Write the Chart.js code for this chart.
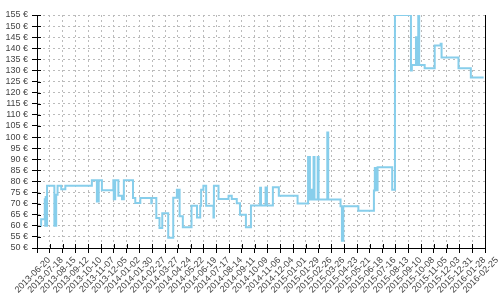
<!DOCTYPE html>
<html>
<head>
<meta charset="utf-8">
<script src="https://cdn.jsdelivr.net/npm/chart.js@4.4.0/dist/chart.umd.min.js"></script>
<style>
  html,body{margin:0;padding:0;background:#fff;}
  #wrap{width:500px;height:300px;}
</style>
</head>
<body>
<div id="wrap"><canvas id="c"></canvas></div>
<script>
// Price history (step changes)
const dates = [
  '2013-06-28','2013-06-29','2013-07-07','2013-07-08','2013-07-09','2013-07-11','2013-07-12','2013-07-28',
  '2013-08-01','2013-08-04','2013-08-12','2013-08-21','2013-10-18','2013-10-29','2013-11-02','2013-11-09',
  '2013-12-04','2013-12-05','2013-12-08','2013-12-15','2013-12-23','2013-12-27','2014-01-16','2014-01-21',
  '2014-02-01','2014-02-25','2014-02-26','2014-03-08','2014-03-15','2014-03-21','2014-04-03','2014-04-14',
  '2014-04-22','2014-04-24','2014-04-25','2014-04-28','2014-05-05','2014-05-24','2014-06-05','2014-06-12',
  '2014-06-14','2014-06-19','2014-06-25','2014-07-11','2014-07-12','2014-07-22','2014-08-13','2014-08-20',
  '2014-08-31','2014-09-07','2014-09-20','2014-10-01','2014-10-21','2014-10-23','2014-11-02','2014-11-05',
  '2014-11-18','2014-12-01','2015-01-11','2015-02-03','2015-02-07','2015-02-09','2015-02-11','2015-02-15',
  '2015-02-17','2015-02-24','2015-02-26','2015-03-17','2015-03-19','2015-04-15','2015-04-18','2015-04-21',
  '2015-05-24','2015-06-27','2015-06-29','2015-07-01','2015-07-05','2015-08-06','2015-08-12','2015-09-16',
  '2015-09-18','2015-09-27','2015-09-28','2015-09-29','2015-09-30','2015-10-01','2015-10-02','2015-10-04',
  '2015-10-16','2015-11-07','2015-11-20','2015-11-22','2015-12-29','2016-01-25','2016-02-22'
];
const prices = [
  60, 63, 72, 60, 73, 60, 78, 60,
  74, 78, 76.5, 78, 80.5, 71, 80.5, 76,
  80.5, 72, 80.5, 73.5, 72, 80.5, 72.5, 70.3,
  72.5, 70.2, 72.5, 63.5, 59, 65.7, 54.6, 72.6,
  76.3, 72.6, 76.3, 64.3, 59.4, 69, 63.8, 69,
  76.2, 78, 69, 63.8, 78, 72.1, 73.6, 72.1,
  70.2, 65, 59.3, 69.1, 77.1, 69.1, 77.3, 69.1,
  77.4, 73.6, 70.1, 91, 71.8, 76.3, 71.8, 91,
  71.8, 91, 71.8, 102, 71.8, 68.8, 53.3, 68.8,
  66.8, 75.9, 86, 76, 86.4, 76.2, 155, 130,
  132.5, 145, 132.5, 145, 132.5, 145, 155, 132.5,
  131, 141.3, 142, 135.8, 131, 126.8, 126.8
];
const tickLabels = [
  '2013-06-20','2013-07-18','2013-08-15','2013-09-12','2013-10-10','2013-11-07','2013-12-05',
  '2014-01-02','2014-01-30','2014-02-27','2014-03-27','2014-04-24','2014-05-22','2014-06-19',
  '2014-07-17','2014-08-14','2014-09-11','2014-10-09','2014-11-06','2014-12-04','2015-01-01',
  '2015-01-29','2015-02-26','2015-03-26','2015-04-23','2015-05-21','2015-06-18','2015-07-16',
  '2015-08-13','2015-09-10','2015-10-08','2015-11-05','2015-12-03','2015-12-31','2016-01-28','2016-02-25'
];
const yTicks = [50,55,60,65,70,75,80,85,90,95,100,105,110,115,120,125,130,135,140,145,150,155];

const t0 = Date.parse(tickLabels[0]);
const day = s => (Date.parse(s) - t0) / 864e5;
const points = dates.map((d, i) => ({ x: day(d), y: prices[i] }));
const tickDays = tickLabels.map(day);

const FONT = { family: "'Liberation Sans', Arial, sans-serif", size: 9 };
const GRID = { color: '#bbb', tickColor: '#000', tickLength: 5 };
const BORDER = { color: '#000', width: 1, dash: [2, 3] };

// short ticks inside the plot + right frame line
const innerTicks = {
  id: 'innerTicks',
  afterDraw(chart) {
    const { ctx, chartArea: a, scales: { x, y } } = chart;
    ctx.save();
    ctx.strokeStyle = '#000'; ctx.lineWidth = 1;
    ctx.beginPath();
    y.ticks.forEach(t => { const p = Math.round(y.getPixelForValue(t.value)) + 0.5; ctx.moveTo(a.left, p); ctx.lineTo(a.left + 4, p); });
    x.ticks.forEach(t => { const p = Math.round(x.getPixelForValue(t.value)) + 0.5; ctx.moveTo(p, a.bottom); ctx.lineTo(p, a.bottom - 4); });
    const r = Math.round(a.right) + 0.5;
    ctx.moveTo(r, a.top); ctx.lineTo(r, a.bottom);
    ctx.stroke();
    ctx.restore();
  }
};

new Chart(document.getElementById('c'), {
  type: 'line',
  data: { datasets: [{ data: points, stepped: true, borderColor: '#87ceeb', borderWidth: 2, pointRadius: 0, fill: false }] },
  options: {
    responsive: true, maintainAspectRatio: false, animation: false,
    layout: { padding: { top: 15, right: 15, left: 0, bottom: 0 } },
    plugins: { legend: { display: false }, tooltip: { enabled: false } },
    scales: {
      x: {
        type: 'linear', min: tickDays[0], max: tickDays[tickDays.length - 1],
        afterBuildTicks: s => { s.ticks = tickDays.map(v => ({ value: v })); },
        afterFit: s => { s.height = 52; s.paddingLeft = 0; s.paddingRight = 0; },
        grid: GRID, border: BORDER,
        ticks: { autoSkip: false, maxRotation: 45, minRotation: 45, labelOffset: 12, padding: 2, font: FONT, color: '#444', callback: (v, i) => tickLabels[i] }
      },
      y: {
        min: yTicks[0], max: yTicks[yTicks.length - 1],
        afterBuildTicks: s => { s.ticks = yTicks.map(v => ({ value: v })); },
        afterFit: s => { s.width = 37; },
        grid: GRID, border: BORDER,
        ticks: { autoSkip: false, padding: 4, font: FONT, color: '#444', callback: v => v + ' €' }
      }
    }
  },
  plugins: [innerTicks]
});
</script>
</body>
</html>
